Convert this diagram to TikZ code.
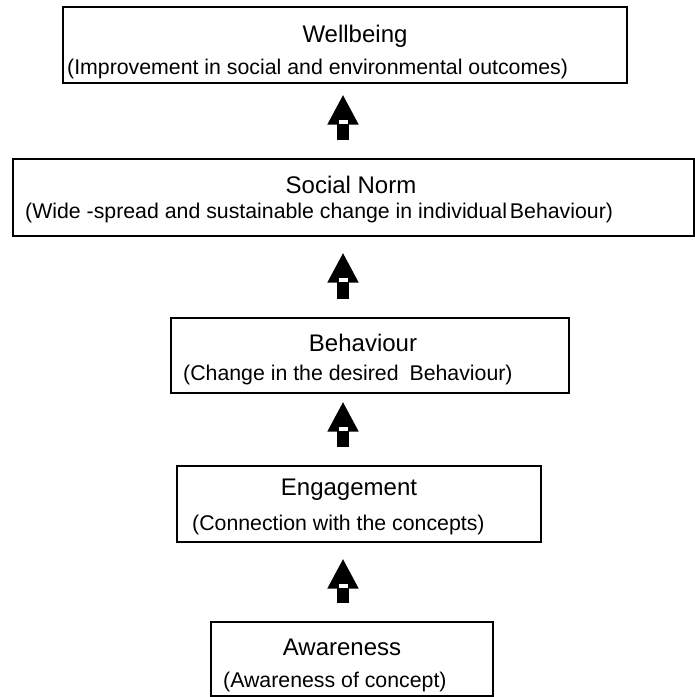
\documentclass[tikz,border=0pt]{standalone}
\usepackage{fontspec}
\setmainfont{Liberation Sans}
\usetikzlibrary{arrows.meta,shadows,calc}
\tikzstyle{stage}=[rectangle,draw=black,line width=1.1pt,fill=white,inner sep=0pt,drop shadow={shadow xshift=1.4pt,shadow yshift=-1.4pt,fill=black!50,opacity=1}]
\tikzstyle{stagetitle}=[inner sep=0pt,anchor=base,font=\fontsize{24}{28}\selectfont]
\tikzstyle{stagesub}=[inner sep=0pt,anchor=base west,font=\fontsize{21.3}{25}\selectfont]
\tikzstyle{uparrow}=[draw,line width=12pt,-{Triangle[width=29pt,length=30pt]}]
\tikzstyle{notch}=[fill=white,draw=none]

\begin{document}
\begin{tikzpicture}[x=1pt,y=-1pt]

    \useasboundingbox (0,0) rectangle (695,697);
    \coordinate (axis) at (343,0);

% Boxes
    \foreach \pos/\name/\w/\h in {{(345,45)/well/564/76}, {(353.5,197.5)/norm/681/77}, {(370,355.5)/behav/398/75}, {(359,504)/engage/364/76}, {(352,659)/aware/282/74}}
        \node[stage,minimum width=\w pt,minimum height=\h pt] (\name) at \pos {};

% Labels
    \node[stagetitle] (wellT) at (355,42) {Wellbeing};
    \node[stagesub] (wellS) at (67,74) {(Improvement in social and environmental outcomes)};

    \node[stagetitle] (normT) at (351,193) {Social Norm};
    \node[stagesub] (normS) at (25,218) {(Wide -spread and sustainable change in individual\hspace{3pt}Behaviour)};

    \node[stagetitle] (behavT) at (363,351) {Behaviour};
    \node[stagesub] (behavS) at (183,380) {(Change in the desired\hspace{5pt} Behaviour)};

    \node[stagetitle] (engageT) at (349,495) {Engagement};
    \node[stagesub] (engageS) at (192,530) {(Connection with the concepts)};

    \node[stagetitle] (awareT) at (342,655) {Awareness};
    \node[stagesub] (awareS) at (223,687) {(Awareness of concept)};

% Arrows
    \foreach \src/\dst/\gap in {aware/engage/16, engage/behav/8, behav/norm/16, norm/well/11}
    {
        \path[uparrow,shorten <=18pt,shorten >=\gap pt] (\src.north -| axis) -- (\dst.south -| axis);
        \fill[notch] ($(\dst.south -| axis)+(-4.5,\gap+25)$) rectangle ++(9,4);
    }

\end{tikzpicture}
\end{document}
